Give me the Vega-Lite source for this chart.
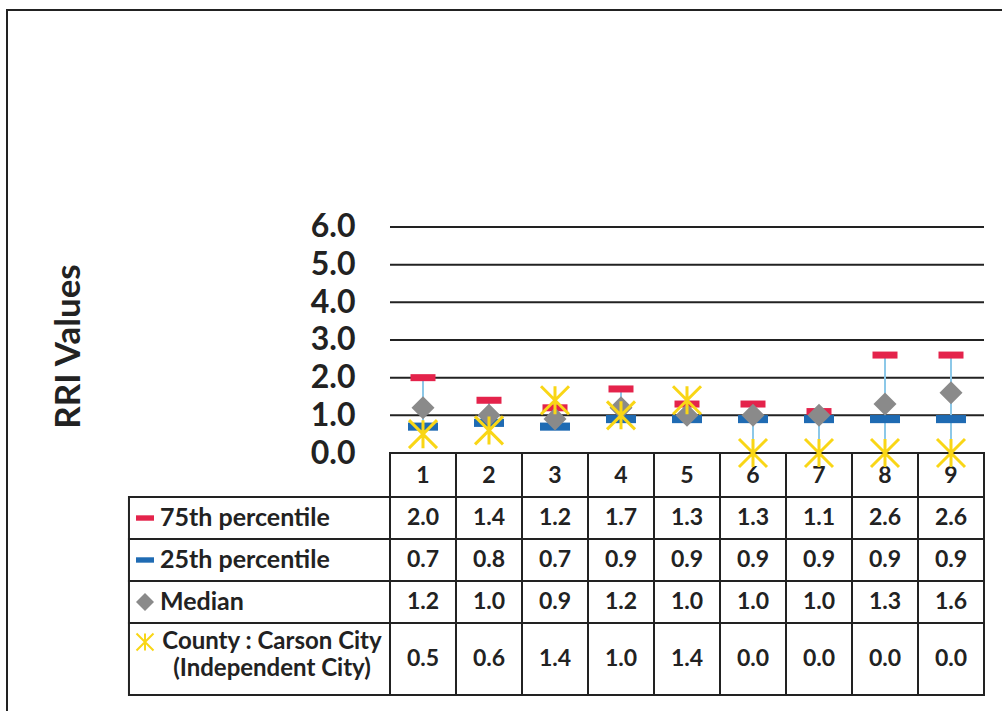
{
  "$schema": "https://vega.github.io/schema/vega-lite/v6.json",
  "width": 997,
  "height": 703,
  "autosize": "none",
  "padding": {"left": 7, "top": 10, "right": 0, "bottom": 0},
  "background": "white",
  "config": {
    "view": {"stroke": "#222", "strokeWidth": 2},
    "text": {"font": "Lato", "fontWeight": "bold", "color": "#222"}
  },
  "datasets": {
    "rri": [
      {"cat": 1, "p75": 2.0, "p25": 0.7, "median": 1.2, "county": 0.5},
      {"cat": 2, "p75": 1.4, "p25": 0.8, "median": 1.0, "county": 0.6},
      {"cat": 3, "p75": 1.2, "p25": 0.7, "median": 0.9, "county": 1.4},
      {"cat": 4, "p75": 1.7, "p25": 0.9, "median": 1.2, "county": 1.0},
      {"cat": 5, "p75": 1.3, "p25": 0.9, "median": 1.0, "county": 1.4},
      {"cat": 6, "p75": 1.3, "p25": 0.9, "median": 1.0, "county": 0.0},
      {"cat": 7, "p75": 1.1, "p25": 0.9, "median": 1.0, "county": 0.0},
      {"cat": 8, "p75": 2.6, "p25": 0.9, "median": 1.3, "county": 0.0},
      {"cat": 9, "p75": 2.6, "p25": 0.9, "median": 1.6, "county": 0.0}
    ],
    "grid": [{"v": 1}, {"v": 2}, {"v": 3}, {"v": 4}, {"v": 5}, {"v": 6}],
    "one": [{}]
  },
  "layer": [
    {
      "data": {"name": "grid"},
      "mark": {"type": "rule", "color": "#222", "strokeWidth": 2},
      "encoding": {
        "x": {"datum": 0.5, "type": "quantitative", "scale": {"domain": [-5.303, 9.803], "nice": false, "zero": false, "padding": 0}, "axis": null},
        "x2": {"datum": 9.5},
        "y": {
          "field": "v", "type": "quantitative",
          "scale": {"domain": [-6.902, 11.76], "nice": false, "zero": false, "padding": 0},
          "axis": {
            "values": [0, 1, 2, 3, 4, 5, 6], "format": ".1f", "grid": false, "domain": false, "ticks": false,
            "offset": -383, "labelFontSize": 32, "labelFont": "Lato", "labelFontWeight": "bold", "labelColor": "#222",
            "labelPadding": 35, "labelOverlap": false, "labelFlush": false,
            "title": "RRI Values", "titleFont": "Lato", "titleFontSize": 35, "titleFontWeight": "bold", "titleColor": "#222",
            "titleX": -322, "titleY": 336, "titleAngle": -90, "titleAlign": "center", "titleBaseline": "middle"
          }
        }
      }
    },
    {
      "data": {"name": "rri"},
      "mark": {"type": "bar", "width": 66, "fill": "white", "stroke": "#222", "strokeWidth": 2},
      "encoding": {"x": {"field": "cat", "type": "quantitative", "axis": null}, "y": {"datum": 0}, "y2": {"datum": -1.168}}
    },
    {
      "data": {"name": "rri"},
      "mark": {"type": "bar", "width": 66, "fill": "white", "stroke": "#222", "strokeWidth": 2},
      "encoding": {"x": {"field": "cat", "type": "quantitative", "axis": null}, "y": {"datum": -1.168}, "y2": {"datum": -2.283}}
    },
    {
      "data": {"name": "rri"},
      "mark": {"type": "bar", "width": 66, "fill": "white", "stroke": "#222", "strokeWidth": 2},
      "encoding": {"x": {"field": "cat", "type": "quantitative", "axis": null}, "y": {"datum": -2.283}, "y2": {"datum": -3.398}}
    },
    {
      "data": {"name": "rri"},
      "mark": {"type": "bar", "width": 66, "fill": "white", "stroke": "#222", "strokeWidth": 2},
      "encoding": {"x": {"field": "cat", "type": "quantitative", "axis": null}, "y": {"datum": -3.398}, "y2": {"datum": -4.513}}
    },
    {
      "data": {"name": "rri"},
      "mark": {"type": "bar", "width": 66, "fill": "white", "stroke": "#222", "strokeWidth": 2},
      "encoding": {"x": {"field": "cat", "type": "quantitative", "axis": null}, "y": {"datum": -4.513}, "y2": {"datum": -6.425}}
    },
    {
      "data": {"name": "one"},
      "mark": {"type": "rect", "fill": "white", "stroke": "#222", "strokeWidth": 2},
      "encoding": {"x": {"datum": -3.455, "axis": null}, "x2": {"datum": 0.5}, "y": {"datum": -1.168}, "y2": {"datum": -2.283}}
    },
    {
      "data": {"name": "one"},
      "mark": {"type": "rect", "fill": "white", "stroke": "#222", "strokeWidth": 2},
      "encoding": {"x": {"datum": -3.455, "axis": null}, "x2": {"datum": 0.5}, "y": {"datum": -2.283}, "y2": {"datum": -3.398}}
    },
    {
      "data": {"name": "one"},
      "mark": {"type": "rect", "fill": "white", "stroke": "#222", "strokeWidth": 2},
      "encoding": {"x": {"datum": -3.455, "axis": null}, "x2": {"datum": 0.5}, "y": {"datum": -3.398}, "y2": {"datum": -4.513}}
    },
    {
      "data": {"name": "one"},
      "mark": {"type": "rect", "fill": "white", "stroke": "#222", "strokeWidth": 2},
      "encoding": {"x": {"datum": -3.455, "axis": null}, "x2": {"datum": 0.5}, "y": {"datum": -4.513}, "y2": {"datum": -6.425}}
    },
    {
      "data": {"name": "rri"},
      "mark": {"type": "text", "fontSize": 23},
      "encoding": {"x": {"field": "cat", "type": "quantitative", "axis": null}, "y": {"datum": -0.6}, "text": {"field": "cat", "type": "quantitative", "format": "d"}}
    },
    {
      "data": {"name": "rri"},
      "mark": {"type": "text", "fontSize": 23},
      "encoding": {"x": {"field": "cat", "type": "quantitative", "axis": null}, "y": {"datum": -1.726}, "text": {"field": "p75", "type": "quantitative", "format": ".1f"}}
    },
    {
      "data": {"name": "rri"},
      "mark": {"type": "text", "fontSize": 23},
      "encoding": {"x": {"field": "cat", "type": "quantitative", "axis": null}, "y": {"datum": -2.84}, "text": {"field": "p25", "type": "quantitative", "format": ".1f"}}
    },
    {
      "data": {"name": "rri"},
      "mark": {"type": "text", "fontSize": 23},
      "encoding": {"x": {"field": "cat", "type": "quantitative", "axis": null}, "y": {"datum": -3.955}, "text": {"field": "median", "type": "quantitative", "format": ".1f"}}
    },
    {
      "data": {"name": "rri"},
      "mark": {"type": "text", "fontSize": 23},
      "encoding": {"x": {"field": "cat", "type": "quantitative", "axis": null}, "y": {"datum": -5.469}, "text": {"field": "county", "type": "quantitative", "format": ".1f"}}
    },
    {
      "data": {"name": "one"},
      "mark": {"type": "text", "fontSize": 25, "align": "left", "text": "75th percentile"},
      "encoding": {"x": {"datum": -2.985, "axis": null}, "y": {"datum": -1.726}}
    },
    {
      "data": {"name": "one"},
      "mark": {"type": "text", "fontSize": 25, "align": "left", "text": "25th percentile"},
      "encoding": {"x": {"datum": -2.985, "axis": null}, "y": {"datum": -2.84}}
    },
    {
      "data": {"name": "one"},
      "mark": {"type": "text", "fontSize": 25, "align": "left", "text": "Median"},
      "encoding": {"x": {"datum": -2.985, "axis": null}, "y": {"datum": -3.955}}
    },
    {
      "data": {"name": "one"},
      "mark": {"type": "text", "fontSize": 24, "align": "center", "lineHeight": 27, "text": ["County : Carson City", "(Independent City)"]},
      "encoding": {"x": {"datum": -1.288, "axis": null}, "y": {"datum": -5.017}}
    },
    {
      "data": {"name": "one"},
      "mark": {"type": "point", "filled": true, "opacity": 1, "color": "#E4234B", "size": 324, "shape": "M-1,-0.3L1,-0.3L1,0.3L-1,0.3Z"},
      "encoding": {"x": {"datum": -3.212, "axis": null}, "y": {"datum": -1.726}}
    },
    {
      "data": {"name": "one"},
      "mark": {"type": "point", "filled": true, "opacity": 1, "color": "#1F6BB3", "size": 324, "shape": "M-1,-0.3L1,-0.3L1,0.3L-1,0.3Z"},
      "encoding": {"x": {"datum": -3.212, "axis": null}, "y": {"datum": -2.84}}
    },
    {
      "data": {"name": "one"},
      "mark": {"type": "point", "filled": true, "opacity": 1, "color": "#8A8A8A", "size": 324, "shape": "diamond"},
      "encoding": {"x": {"datum": -3.212, "axis": null}, "y": {"datum": -3.955}}
    },
    {
      "data": {"name": "one"},
      "mark": {"type": "point", "filled": false, "opacity": 1, "color": "#F9D616", "strokeWidth": 2, "size": 289, "shape": "M-1,-1L1,1M-1,1L1,-1M0,-1L0,1"},
      "encoding": {"x": {"datum": -3.212, "axis": null}, "y": {"datum": -5.017}}
    },
    {
      "data": {"name": "rri"},
      "transform": [
        {"fold": ["p75", "p25", "median", "county"], "as": ["series", "val"]},
        {"aggregate": [{"op": "min", "field": "val", "as": "lo"}, {"op": "max", "field": "val", "as": "hi"}], "groupby": ["cat"]}
      ],
      "mark": {"type": "rule", "color": "#8CC8E8", "strokeWidth": 2},
      "encoding": {"x": {"field": "cat", "type": "quantitative", "axis": null}, "y": {"field": "lo", "type": "quantitative"}, "y2": {"field": "hi"}}
    },
    {
      "data": {"name": "rri"},
      "mark": {"type": "point", "filled": true, "opacity": 1, "color": "#E4234B", "size": 625, "shape": "M-1,-0.28L1,-0.28L1,0.28L-1,0.28Z"},
      "encoding": {"x": {"field": "cat", "type": "quantitative", "axis": null}, "y": {"field": "p75", "type": "quantitative"}}
    },
    {
      "data": {"name": "rri"},
      "mark": {"type": "point", "filled": true, "opacity": 1, "color": "#1F6BB3", "size": 900, "shape": "M-1,-0.27L1,-0.27L1,0.27L-1,0.27Z"},
      "encoding": {"x": {"field": "cat", "type": "quantitative", "axis": null}, "y": {"field": "p25", "type": "quantitative"}}
    },
    {
      "data": {"name": "rri"},
      "mark": {"type": "point", "filled": true, "opacity": 1, "color": "#8A8A8A", "size": 529, "shape": "diamond"},
      "encoding": {"x": {"field": "cat", "type": "quantitative", "axis": null}, "y": {"field": "median", "type": "quantitative"}}
    },
    {
      "data": {"name": "rri"},
      "mark": {"type": "point", "filled": false, "opacity": 1, "color": "#F9D616", "strokeWidth": 3, "size": 784, "shape": "M-1,-1L1,1M-1,1L1,-1M0,-1L0,1"},
      "encoding": {"x": {"field": "cat", "type": "quantitative", "axis": null}, "y": {"field": "county", "type": "quantitative"}}
    }
  ]
}
